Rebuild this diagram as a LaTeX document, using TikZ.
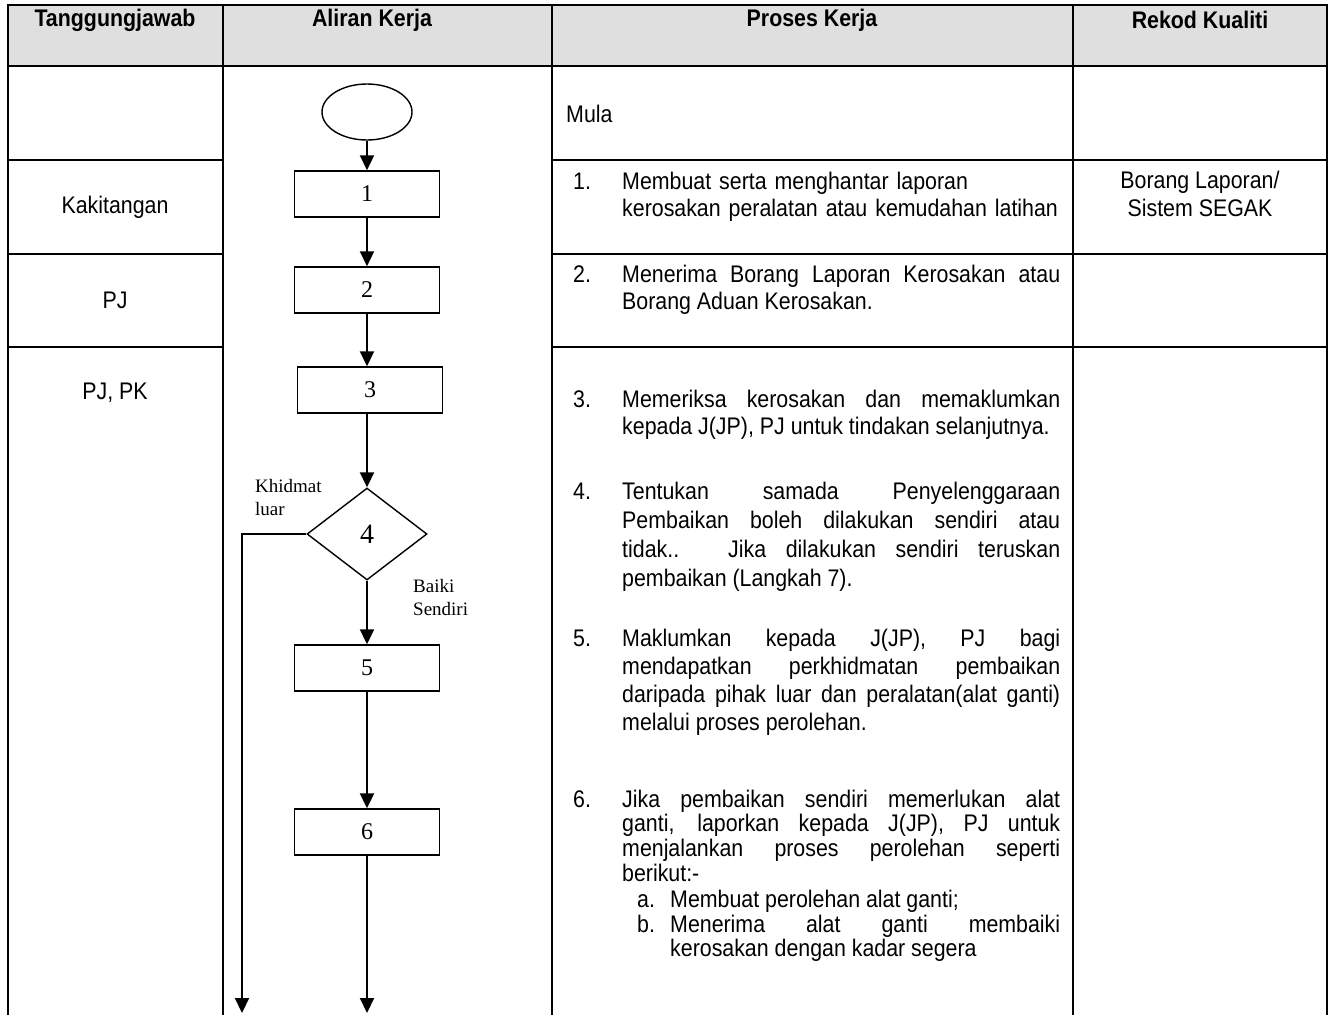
\documentclass[tikz,border=0pt]{standalone}
\usepackage{fontspec}
\setmainfont{Liberation Sans}[FakeStretch=0.89]
\newfontfamily\flowfont{Liberation Serif}
\usetikzlibrary{arrows.meta, positioning, shapes.geometric}
\hyphenpenalty=10000

\begin{document}
\begin{tikzpicture}[x=1pt, y=-1pt,
  grid/.style={line width=2.4pt},
  head/.style={font=\bfseries\fontsize{24}{28}\selectfont, inner sep=0pt},
  txt/.style={font=\fontsize{24}{27.5}\selectfont, inner sep=0pt},
  para/.style={txt, anchor=base west, text width=438pt, align=justify},
  num/.style={txt, anchor=base west},
  flowbox/.style={draw, line width=1.4pt, minimum width=145pt, minimum height=46pt,
    font=\flowfont\fontsize{24}{24}\selectfont},
  flowline/.style={line width=2pt, -{Triangle[width=14pt,length=15pt]}},
  tag/.style={font=\flowfont\fontsize{19}{23.5}\selectfont, align=left, inner sep=0pt, anchor=north west}]
  \useasboundingbox (0,0) rectangle (1330,1015);
  % Header band
  \fill[black!12.5] (8,5) rectangle (1327,66);
  \draw[grid] (8,1015) -- (8,5) -- (1327,5) -- (1327,1015);
  \draw[grid] (8,66) -- (1327,66);
  \foreach \x in {223,552,1073}
    \draw[grid] (\x,5) -- (\x,1015);
  \foreach \y in {160,254,347} {
    \draw[grid] (8,\y) -- (223,\y);
    \draw[grid] (552,\y) -- (1327,\y);
  }
  \node[head] (hTang) at (115,20) {Tanggungjawab};
  \node[head] (hAliran) at (372,20) {Aliran Kerja};
  \node[head] (hProses) at (812,20) {Proses Kerja};
  \node[head] (hRekod) at (1200,20) {Rekod Kualiti};

  % Tanggungjawab
  \node[txt] (who1) at (115,207) {Kakitangan};
  \node[txt] (who2) at (115,300) {PJ};
  \node[txt] (who3) at (115,393) {PJ, PK};

  % Rekod Kualiti
  \node[txt, align=center] (rec1) at (1200,194) {Borang Laporan/\\Sistem SEGAK};

  % Flow chart
  \node[ellipse, draw, line width=1.4pt, minimum width=90pt, minimum height=56pt] (start) at (367,112) {};
  \node[flowbox] (s1) at (367,194) {1};
  \node[flowbox] (s2) at (367,290) {2};
  \node[flowbox] (s3) at (370,390) {3};
  \node[diamond, draw, line width=1.4pt, inner sep=0pt, minimum width=120pt, minimum height=92pt,
    font=\flowfont\fontsize{28}{28}\selectfont] (s4) at (367,534) {4};
  \node[flowbox] (s5) at (367,668) {5};
  \node[flowbox] (s6) at (367,832) {6};
  \coordinate (endL) at (242,1013);
  \coordinate (endM) at (367,1013);
  \draw[flowline] (start) -- (s1);
  \draw[flowline] (s1) -- (s2);
  \draw[flowline] (s2) -- (s2 |- s3.north);
  \draw[flowline] (s3.south -| s4) -- (s4);
  \draw[flowline] (s4) -- (s5);
  \draw[flowline] (s5) -- (s6);
  \draw[flowline] (s6) -- (endM);
  \draw[flowline] (s4.west) -| (endL);
  \node[tag] (lblOut) at (255,479) {Khidmat\\luar};
  \node[tag] (lblSelf) at (413,579) {Baiki\\Sendiri};

  % Proses Kerja
  \node[num] (mula) at (566,122) {Mula};
  \node[num] (n1) at (573,189) {1.};
  \node[para, align=left] (p1) at (622,189) {Membuat serta menghantar laporan\\kerosakan peralatan atau kemudahan latihan};
  \node[num] (n2) at (573,282) {2.};
  \node[para] (p2) at (622,282) {Menerima Borang Laporan Kerosakan atau\linebreak Borang Aduan Kerosakan.};
  \node[num] (n3) at (573,407) {3.};
  \node[para] (p3) at (622,407) {Memeriksa kerosakan dan memaklumkan\linebreak kepada J(JP), PJ untuk tindakan selanjutnya.};
  \node[num] (n4) at (573,499) {4.};
  \node[para, font=\fontsize{24}{29}\selectfont] (p4) at (622,499) {Tentukan samada Penyelenggaraan\linebreak Pembaikan boleh dilakukan sendiri atau\linebreak tidak.. Jika dilakukan sendiri teruskan\linebreak pembaikan (Langkah 7).};
  \node[num] (n5) at (573,646) {5.};
  \node[para, font=\fontsize{24}{28.3}\selectfont] (p5) at (622,646) {Maklumkan kepada J(JP), PJ bagi\linebreak mendapatkan perkhidmatan pembaikan\linebreak daripada pihak luar dan peralatan(alat ganti)\linebreak melalui proses perolehan.};
  \node[num] (n6) at (573,807) {6.};
  \node[para, font=\fontsize{24}{24.9}\selectfont] (p6) at (622,807) {Jika pembaikan sendiri memerlukan alat\linebreak ganti, laporkan kepada J(JP), PJ untuk\linebreak menjalankan proses perolehan seperti\linebreak berikut:-};
  \node[num] (n6a) at (637,907) {a.};
  \node[num] (p6a) at (670,907) {Membuat perolehan alat ganti;};
  \node[num] (n6b) at (637,932) {b.};
  \node[para, text width=390pt, font=\fontsize{24}{24.9}\selectfont] (p6b) at (670,932) {Menerima alat ganti membaiki\linebreak kerosakan dengan kadar segera};
\end{tikzpicture}
\end{document}
